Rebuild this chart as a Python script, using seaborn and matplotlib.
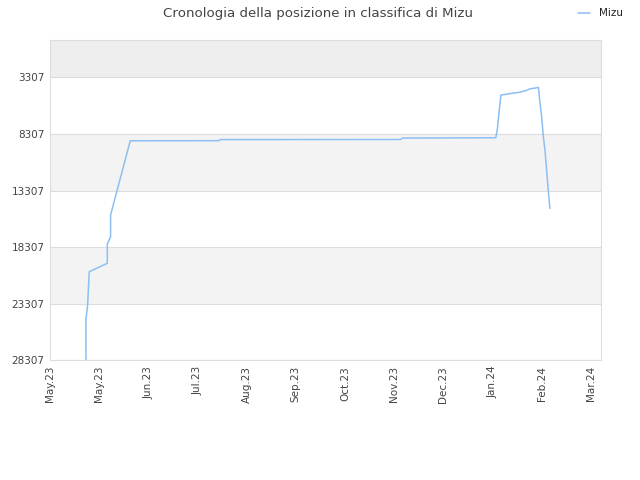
import matplotlib
matplotlib.use("Agg")
import matplotlib.pyplot as plt
import seaborn as sns
import pandas as pd

dates = ["2023-05-23", "2023-05-23", "2023-05-24", "2023-05-25", "2023-06-05", "2023-06-05",
         "2023-06-07", "2023-06-07", "2023-06-19", "2023-08-12", "2023-08-13", "2023-12-01",
         "2023-12-02", "2024-01-28",
         "2024-01-29", "2024-01-30", "2024-01-31", "2024-01-31", "2024-02-05", "2024-02-11",
         "2024-02-15", "2024-02-18", "2024-02-22", "2024-02-23", "2024-02-24", "2024-02-25",
         "2024-02-26", "2024-02-27", "2024-02-28", "2024-02-29", "2024-03-01"]
ranks = [28300, 24685, 23400, 20480, 19738, 18033,
         17388, 15471, 8908, 8900, 8802, 8795,
         8669, 8643,
         7812, 6346, 5021, 4871, 4756, 4632,
         4491, 4314, 4226, 4190, 5604, 6788,
         8554, 9729, 11496, 13263, 14880]
series_name = "Mizu"
ytick_values = [3307, 8307, 13307, 18307, 23307, 28307]
title = "Cronologia della posizione in classifica di Mizu"

df = pd.DataFrame({"date": pd.to_datetime(dates), "rank": ranks, "player": series_name})

sns.set_theme(style="white")
plt.rcParams['font.family'] = ['DejaVu Sans']

fig = plt.figure(figsize=(6.4, 4.8), dpi=100)
ax = fig.add_axes([0.078, 0.2494, 0.8606, 0.6673])

# bands
band_edges = [1] + ytick_values
band_colors = ["#eeeeee", "#ffffff", "#f3f3f3", "#ffffff", "#f3f3f3", "#ffffff"]
for i in range(len(band_edges) - 1):
    ax.axhspan(band_edges[i], band_edges[i + 1], color=band_colors[i], zorder=0, lw=0)
for v in ytick_values:
    ax.axhline(v, color="#dddddd", lw=0.8, zorder=1)

sns.lineplot(data=df, x="date", y="rank", hue="player", palette=["#8cbff2"],
             linewidth=1.1, ax=ax, zorder=3, sort=False, estimator=None)

ax.set_ylim(28307, 1)
ax.set_yticks(ytick_values)
ax.set_yticklabels([str(v) for v in ytick_values], fontsize=7.5, color="#444444")

start = pd.Timestamp("2023-05-01")
ax.set_xlim(start, pd.Timestamp("2024-04-01"))
xt = [start + pd.Timedelta(days=30 * i) for i in range(12)]
ax.set_xticks(xt)
ax.set_xticklabels([d.strftime("%b.%y") for d in xt], rotation=90, fontsize=7.5, color="#444444")
ax.tick_params(axis="both", length=0, pad=4)

for s in ax.spines.values():
    s.set_color("#dddddd")
    s.set_linewidth(0.8)
ax.set_xlabel("")
ax.set_ylabel("")

leg = ax.legend(loc="center left", bbox_to_anchor=(578.3 / 640, 1 - 13.3 / 480),
                bbox_transform=fig.transFigure, frameon=False, fontsize=7.5,
                handlelength=1.1, handletextpad=0.9, borderpad=0, borderaxespad=0)
for t in leg.get_texts():
    t.set_color("#222222")

fig.text(318 / 640, 1 - 17.3 / 480, title, ha="center", va="baseline", fontsize=9.6, color="#444444")

fig.savefig("out.png", dpi=100)
